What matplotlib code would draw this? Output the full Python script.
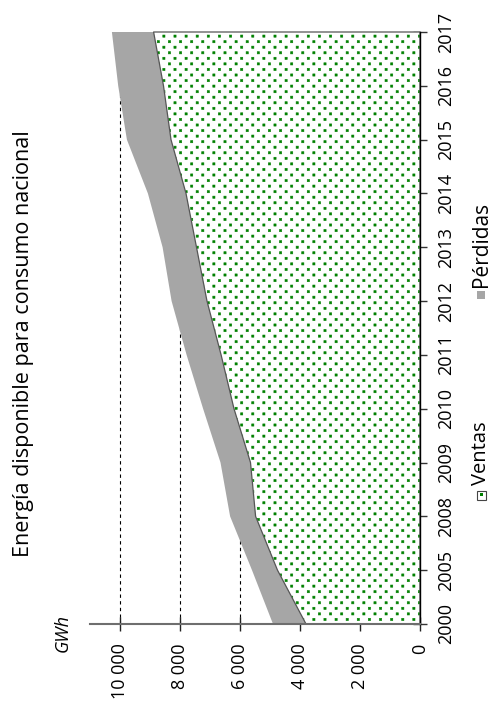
import numpy as np
import matplotlib
matplotlib.use('Agg')
import matplotlib.pyplot as plt
from matplotlib import hatch as mhatch
from matplotlib.path import Path
from matplotlib.patches import Rectangle

plt.rcParams['font.family'] = ['Open Sans', 'DejaVu Sans']
plt.rcParams['hatch.linewidth'] = 0.4

# datos (GWh)
years = ['2000', '2005', '2008', '2009', '2010', '2011', '2012', '2013', '2014', '2015', '2016', '2017']
ventas = np.array([3800, 4750, 5480, 5650, 6200, 6630, 7100, 7450, 7800, 8300, 8550, 8880])
perdidas = np.array([1100, 850, 850, 1000, 1030, 1150, 1180, 1130, 1270, 1470, 1510, 1390])
value_ticks = [0, 2000, 4000, 6000, 8000, 10000]
value_labels = ['0', '2 000', '4 000', '6 000', '8 000', '10 000']
grid_values = [6000, 8000, 10000]


# trama de puntos cuadrados en damero (sustituye al hatch '.')
class SquareDots(mhatch.HatchPatternBase):
    def __init__(self, hatch, density):
        self.num_rows = 18 if '.' in hatch else 0
        self.num_vertices = self.num_rows * (self.num_rows // 2) * 5

    def set_vertices_and_codes(self, vertices, codes):
        n = self.num_rows
        s = 0.011
        sq = np.array([[-s, -s], [s, -s], [s, s], [-s, s], [-s, -s]])
        k = 0
        for r in range(n):
            for c in range(n // 2):
                vertices[k:k + 5] = sq + [(2 * c + r % 2 + 0.5) / n, (r + 0.5) / n]
                codes[k:k + 5] = [Path.MOVETO, Path.LINETO, Path.LINETO, Path.LINETO, Path.CLOSEPOLY]
                k += 5


mhatch._hatch_types = [SquareDots if t is mhatch.SmallFilledCircles else t
                       for t in mhatch._hatch_types]

W, H = 490, 702
fig = plt.figure(figsize=(W / 100, H / 100), dpi=100)
ax = fig.add_axes([90 / W, 78 / H, 330 / W, 592 / H])

pos = np.arange(len(years))
total = ventas + perdidas

for v in grid_values:
    ax.axvline(v, color='black', ls=(0, (3, 3)), lw=0.8, zorder=1)

ax.fill_betweenx(pos, 0, ventas, facecolor='white', edgecolor='green', hatch='.',
                 linewidth=0, zorder=2)
ax.fill_betweenx(pos, 0, ventas, facecolor='none', edgecolor='#555555',
                 linewidth=0.9, zorder=3, clip_on=False)
ax.fill_betweenx(pos, ventas, total, facecolor='#a6a6a6', linewidth=0, zorder=2)

ax.set_xlim(11000, 0)
ax.set_ylim(0, len(years) - 1)

ax.spines['left'].set_visible(False)
ax.spines['top'].set_visible(False)
ax.spines['right'].set_color('black')
ax.spines['right'].set_linewidth(1)
ax.spines['right'].set_zorder(4)
ax.spines['bottom'].set_color('#6e6e6e')
ax.spines['bottom'].set_linewidth(1.5)
ax.spines['bottom'].set_zorder(4)

ax.yaxis.tick_right()
ax.set_yticks(pos, years, rotation=90, va='center')
ax.set_xticks(value_ticks, value_labels, rotation=90)
ax.tick_params(axis='y', direction='inout', length=10, width=1, color='#333333',
               pad=7, labelsize=13)
ax.tick_params(axis='x', direction='inout', length=10, width=1, color='#222222',
               pad=9, labelsize=13)

fig.text(24 / W, 1 - 344 / H, 'Energía disponible para consumo nacional',
         rotation=90, ha='center', va='center', fontsize=15.5)
fig.text(63 / W, 1 - 633 / H, 'GWh', rotation=90, style='italic',
         ha='center', va='center', fontsize=13)

# leyenda
fig.text(481 / W, 1 - 287 / H, 'Pérdidas', rotation=90, ha='center', va='bottom', fontsize=15)
fig.patches.append(Rectangle((477 / W, 1 - 299 / H), 8 / W, 8 / H, transform=fig.transFigure,
                             facecolor='#a6a6a6', edgecolor='none'))
fig.text(481 / W, 1 - 485 / H, 'Ventas', rotation=90, ha='center', va='bottom', fontsize=14.5)
fig.patches.append(Rectangle((477 / W, 1 - 500 / H), 9 / W, 9 / H, transform=fig.transFigure,
                             facecolor='white', edgecolor='#444444', linewidth=0.8))
fig.patches.append(Rectangle((480 / W, 1 - 496 / H), 3 / W, 3 / H, transform=fig.transFigure,
                             facecolor='green', edgecolor='none'))

fig.savefig('out.png', dpi=100)
